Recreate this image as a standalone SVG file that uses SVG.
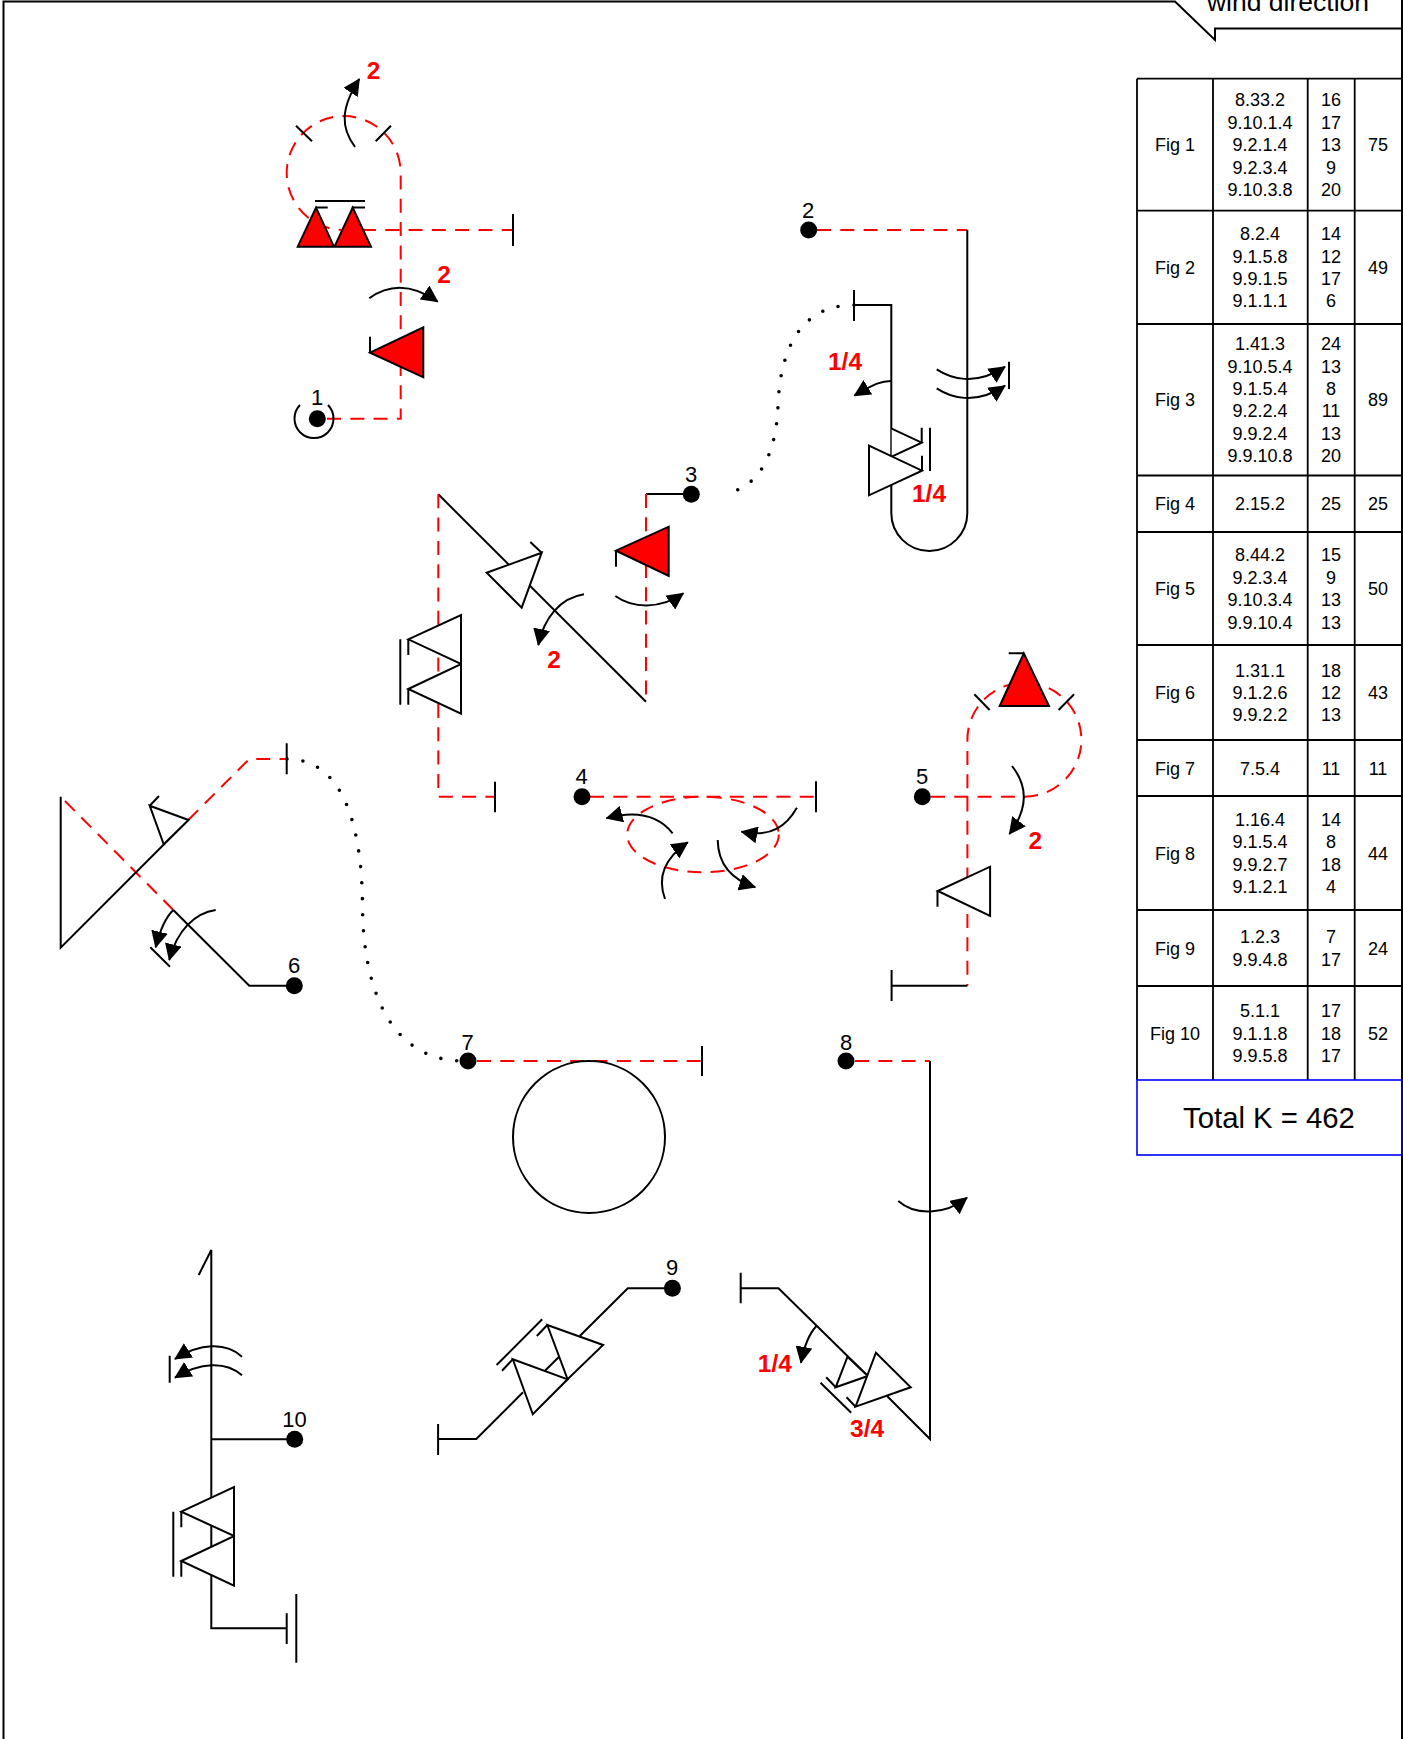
<svg xmlns="http://www.w3.org/2000/svg" width="1403" height="1739" viewBox="0 0 1403 1739">
<style>
text{font-family:"Liberation Sans",Arial,sans-serif;text-anchor:middle;fill:#000}
.b{fill:none;stroke:#000;stroke-width:2}
.a{fill:none;stroke:#000;stroke-width:2;marker-end:url(#ah)}
.r{fill:none;stroke:#f00;stroke-width:2;stroke-dasharray:14 9.3}
.d{fill:none;stroke:#000;stroke-width:3.6;stroke-linecap:round;stroke-dasharray:0 16}
.w{fill:#fff;stroke:#000;stroke-width:2;stroke-linejoin:miter}
.f{fill:#f00;stroke:#000;stroke-width:2}
.t{fill:none;stroke:#000;stroke-width:1.8}
.n{font-size:22px}
.q{font-size:24.5px;font-weight:bold;fill:#f00}
.c{font-size:18px}
</style>
<defs>
<marker id="ah" markerUnits="userSpaceOnUse" viewBox="0 0 17 17" markerWidth="17" markerHeight="17" refX="16" refY="8.5" orient="auto"><path d="M0 0L17 8.5L0 17z" fill="#000"/></marker>
</defs>
<rect width="1403" height="1739" fill="#fff"/>
<g id="frame">
<path class="b" d="M3.5 1739V1.5H1175L1215 40V28.5H1402M1402 0V1739"/>
<text x="1288" y="11" style="font-size:26.5px">wind direction</text>
</g>
<g id="connectors">
<path class="r" d="M327 418.7H400.7V173A57 57 0 1 0 343.6 230H513"/>
<path class="r" d="M817 230H967.3"/>
<path class="b" d="M967.3 230V513A38 38 0 0 1 891.3 513V305H854"/>
<path class="d" d="M854 305C800 305 780 350 778 406C776 460 755 490 723 493.5"/>
<path class="b" d="M691 494H646"/>
<path class="r" d="M646 494V701.7"/>
<path class="b" d="M646 701.7L438.3 494.3"/>
<path class="r" d="M438.3 494.3V796.7H495"/>
<path class="r" d="M590 796.7H816"/>
<ellipse class="r" cx="703" cy="834.5" rx="75.8" ry="37.8"/>
<path class="r" d="M931 796.7H1024A57 57 0 1 0 967.4 739.7V985.7"/>
<path class="b" d="M967.4 985.7H891.6"/>
<path class="b" d="M294 985.7H249.3L173.3 910"/>
<path class="r" d="M173.3 910L60.7 796.7"/>
<path class="b" d="M60.7 796.7V947.7L188.3 820"/>
<path class="r" d="M188.3 820L249.3 759H286.7"/>
<path class="d" d="M287 759C345 759 362 830 362.5 906C363 980 385 1058 460 1061"/>
<path class="r" d="M477 1061H702"/>
<path class="r" d="M855 1061H930"/>
<path class="b" d="M930 1061V1439L887 1396M867.8 1376L778.5 1288.3H740.7"/>
<path class="b" d="M672 1288.3H627.8L579.8 1336M559.1 1356.7L545 1370.7M523 1392.3L476.3 1439H438.1"/>
<path class="b" d="M211.3 1275L198.7 1275M198.7 1275L211.3 1250V1628.3H286.7M211.3 1439.3H294.7" style="display:none"/>
<path class="b" d="M198.7 1275L211.3 1250V1628.3H286.7M211.3 1439.3H294.7"/>
<path class="a" d="M355 147C341 128 340 109 359.3 79"/>
<path class="a" d="M369.3 298.3C385 287 408 281 437.7 301.7"/>
<path class="a" d="M891 381C882 381 875 383 854.3 395.7"/>
<path class="a" d="M936.7 369.3C950 378 975 387 1005 366.7"/>
<path class="a" d="M936.7 388.3C950 397 975 406 1005 385.7"/>
<path class="a" d="M584 594.3C560 598 544 618 538.3 645"/>
<path class="a" d="M615.3 596C632 608 660 610 683.3 593.3"/>
<path class="a" d="M672.6 833.3C658 815 637 810 606.5 818.3"/>
<path class="a" d="M665 899C658 880 662 860 687.8 842.3"/>
<path class="a" d="M717.7 840C718 860 727 878 755.2 887.3"/>
<path class="a" d="M796.9 807.7C787 825 772 838 741.5 831.7"/>
<path class="a" d="M1012 766C1027 785 1029 808 1009.4 834"/>
<path class="a" d="M173.3 910C165 918 160 930 155.7 947.3"/>
<path class="a" d="M215.7 910C195 913 177 930 169.3 960"/>
<path class="a" d="M898.3 1201C915 1216 945 1215 967 1197.7"/>
<path class="a" d="M816.4 1326C808 1335 804 1347 800.9 1362.7"/>
<path class="a" d="M242 1356.7C226 1342 200 1343 175 1359"/>
<path class="a" d="M242 1375.3C226 1361 200 1362 175 1377.7"/>
</g>
<g id="node-1">
<path class="b" d="M300 405A19.5 19.5 0 1 0 328 405"/>
<circle cx="317.3" cy="418.7" r="8.5"/>
<text class="n" x="317" y="405">1</text>
<path class="f" d="M316 207.7L297.7 246.7H334zM352.7 207.7L334.5 246.7H371zM370 352.7L423.3 327.3V377.3z"/>
<path class="b" d="M316 207.5H327.7M351.7 207.5H365M315 201H365M296 125.7L312 141.3M375.7 141.3L391 125.7M513 214V246M370 352.7V336.7"/>
<text class="q" x="373.5" y="79">2</text>
<text class="q" x="444" y="283">2</text>
</g>
<g id="node-2">
<circle cx="808.7" cy="230" r="8.5"/>
<text class="n" x="808" y="218.3">2</text>
<path class="w" d="M891.7 428.7L921.7 442.7L891.7 456.7"/>
<path class="w" d="M869 445.7L922 470.7L869 495.3z"/>
<path class="b" d="M921.7 442.7V427.7M922 470.7V455.7M930 427.7V471M854 290V321M1009 361.7V389"/>
<text class="q" x="845" y="370">1/4</text>
<text class="q" x="929" y="501.7">1/4</text>
</g>
<g id="node-3">
<circle cx="691.3" cy="494.3" r="8.5"/>
<text class="n" x="691" y="481.7">3</text>
<path class="f" d="M616 550.7L668.7 526.7V576z"/>
<path class="w" d="M541.7 552.7L486.7 572.7L521.7 607.7z"/>
<path class="w" d="M408.3 639.3L461 615V664zM408.3 689L461 664V713.7z"/>
<path class="b" d="M616 550.7V566.7M541.7 552.7L530.3 542M408.3 639.3V655M408.3 689V704.7M400.3 639.3V704.7M495 781.7V812.3"/>
<text class="q" x="554" y="668.3">2</text>
</g>
<g id="node-4">
<circle cx="582" cy="796.7" r="8.5"/>
<text class="n" x="581.5" y="784">4</text>
<path class="b" d="M816 781.3V812.3"/>
</g>
<g id="node-5">
<circle cx="922.3" cy="796.7" r="8.5"/>
<text class="n" x="922" y="784">5</text>
<path class="f" d="M1023.8 653.3L999.7 706H1049z"/>
<path class="w" d="M937.8 891L990.1 866.7V916z"/>
<path class="b" d="M1023.8 653.3H1008.7M974.3 694.3L989.7 710M1058.6 710L1074.1 694.3M937.5 891V906.7M891.6 970V1001"/>
<text class="q" x="1035.2" y="849">2</text>
</g>
<g id="node-6">
<circle cx="294.3" cy="985.7" r="8.5"/>
<text class="n" x="294" y="972.7">6</text>
<path class="w" d="M149.7 805.7L188.5 820L163.7 844.3z"/>
<path class="b" d="M149.7 805.7L159 796M150.3 947.3L170 966.7M286.7 743.3V774.3"/>
</g>
<g id="node-7">
<circle cx="468" cy="1061" r="8.5"/>
<text class="n" x="467.5" y="1050">7</text>
<circle class="b" cx="589" cy="1137" r="76"/>
<path class="b" d="M702 1046V1076"/>
</g>
<g id="node-8">
<circle cx="846" cy="1061" r="8.5"/>
<text class="n" x="846" y="1050">8</text>
<path class="w" d="M847.5 1356.7L867.8 1376L835.7 1387.3z"/>
<path class="w" d="M875.9 1352.7L910.7 1387.3L855.6 1406.7z"/>
<path class="b" d="M835.7 1387.3L826.2 1377.3M855.6 1406.7L846.5 1397.3M820.5 1382.7L851.2 1412.7M740.7 1272.7V1303.3"/>
<text class="q" x="774.8" y="1371.7">1/4</text>
<text class="q" x="867.1" y="1436.7">3/4</text>
</g>
<g id="node-9">
<circle cx="672.4" cy="1288.3" r="8.5"/>
<text class="n" x="672" y="1275">9</text>
<path class="t" d="M547.3 1325L603.1 1345L567.6 1379.3z" style="stroke-width:2"/>
<path class="w" d="M512.8 1359.3L567.6 1379.3L532.8 1414.3z" style="fill:#fff"/>
<path class="b" d="M547.3 1325L536.8 1336M512.8 1359.3L502 1370.7M496.6 1365L542.2 1319.3M438.1 1424V1455"/>
</g>
<g id="node-10">
<circle cx="294.7" cy="1439.3" r="8.5"/>
<text class="n" x="294.5" y="1426.7">10</text>
<path class="w" d="M181.3 1511.7L234 1487V1536zM181.3 1561L234 1536V1585.7z"/>
<path class="b" d="M181.3 1511.7V1527.3M181.3 1561V1576.7M173.3 1511.7V1576.7M169.7 1355.7V1382.7M286.7 1613.3V1644M296.3 1594V1662.7"/>
</g>
<g id="table">
<path class="t" d="M1137 78.7H1402M1137 210.7H1402M1137 324H1402M1137 475.5H1402M1137 532H1402M1137 645H1402M1137 740H1402M1137 796H1402M1137 910H1402M1137 986H1402M1137 78.7V1080M1213 78.7V1080M1307.7 78.7V1080M1354.7 78.7V1080"/>
<rect x="1137" y="1080" width="265" height="75" fill="none" stroke="#00f" stroke-width="1.6"/>
<text x="1269" y="1127.5" style="font-size:29.3px">Total K = 462</text>
<g class="c">
<text x="1175" y="151.2">Fig 1</text><text x="1175" y="273.8">Fig 2</text><text x="1175" y="406.2">Fig 3</text><text x="1175" y="510.2">Fig 4</text><text x="1175" y="595">Fig 5</text><text x="1175" y="699">Fig 6</text><text x="1175" y="774.5">Fig 7</text><text x="1175" y="859.5">Fig 8</text><text x="1175" y="954.5">Fig 9</text><text x="1175" y="1039.5">Fig 10</text>
<text x="1378" y="151.2">75</text><text x="1378" y="273.8">49</text><text x="1378" y="406.2">89</text><text x="1378" y="510.2">25</text><text x="1378" y="595">50</text><text x="1378" y="699">43</text><text x="1378" y="774.5">11</text><text x="1378" y="859.5">44</text><text x="1378" y="954.5">24</text><text x="1378" y="1039.5">52</text>
<text y="106.4"><tspan x="1260">8.33.2</tspan><tspan x="1260" dy="22.4">9.10.1.4</tspan><tspan x="1260" dy="22.4">9.2.1.4</tspan><tspan x="1260" dy="22.4">9.2.3.4</tspan><tspan x="1260" dy="22.4">9.10.3.8</tspan></text>
<text y="106.4"><tspan x="1331">16</tspan><tspan x="1331" dy="22.4">17</tspan><tspan x="1331" dy="22.4">13</tspan><tspan x="1331" dy="22.4">9</tspan><tspan x="1331" dy="22.4">20</tspan></text>
<text y="240.2"><tspan x="1260">8.2.4</tspan><tspan x="1260" dy="22.4">9.1.5.8</tspan><tspan x="1260" dy="22.4">9.9.1.5</tspan><tspan x="1260" dy="22.4">9.1.1.1</tspan></text>
<text y="240.2"><tspan x="1331">14</tspan><tspan x="1331" dy="22.4">12</tspan><tspan x="1331" dy="22.4">17</tspan><tspan x="1331" dy="22.4">6</tspan></text>
<text y="350.2"><tspan x="1260">1.41.3</tspan><tspan x="1260" dy="22.4">9.10.5.4</tspan><tspan x="1260" dy="22.4">9.1.5.4</tspan><tspan x="1260" dy="22.4">9.2.2.4</tspan><tspan x="1260" dy="22.4">9.9.2.4</tspan><tspan x="1260" dy="22.4">9.9.10.8</tspan></text>
<text y="350.2"><tspan x="1331">24</tspan><tspan x="1331" dy="22.4">13</tspan><tspan x="1331" dy="22.4">8</tspan><tspan x="1331" dy="22.4">11</tspan><tspan x="1331" dy="22.4">13</tspan><tspan x="1331" dy="22.4">20</tspan></text>
<text x="1260" y="510.2">2.15.2</text><text x="1331" y="510.2">25</text>
<text y="561.4"><tspan x="1260">8.44.2</tspan><tspan x="1260" dy="22.4">9.2.3.4</tspan><tspan x="1260" dy="22.4">9.10.3.4</tspan><tspan x="1260" dy="22.4">9.9.10.4</tspan></text>
<text y="561.4"><tspan x="1331">15</tspan><tspan x="1331" dy="22.4">9</tspan><tspan x="1331" dy="22.4">13</tspan><tspan x="1331" dy="22.4">13</tspan></text>
<text y="676.6"><tspan x="1260">1.31.1</tspan><tspan x="1260" dy="22.4">9.1.2.6</tspan><tspan x="1260" dy="22.4">9.9.2.2</tspan></text>
<text y="676.6"><tspan x="1331">18</tspan><tspan x="1331" dy="22.4">12</tspan><tspan x="1331" dy="22.4">13</tspan></text>
<text x="1260" y="774.5">7.5.4</text><text x="1331" y="774.5">11</text>
<text y="825.9"><tspan x="1260">1.16.4</tspan><tspan x="1260" dy="22.4">9.1.5.4</tspan><tspan x="1260" dy="22.4">9.9.2.7</tspan><tspan x="1260" dy="22.4">9.1.2.1</tspan></text>
<text y="825.9"><tspan x="1331">14</tspan><tspan x="1331" dy="22.4">8</tspan><tspan x="1331" dy="22.4">18</tspan><tspan x="1331" dy="22.4">4</tspan></text>
<text y="943.3"><tspan x="1260">1.2.3</tspan><tspan x="1260" dy="22.4">9.9.4.8</tspan></text>
<text y="943.3"><tspan x="1331">7</tspan><tspan x="1331" dy="22.4">17</tspan></text>
<text y="1017.1"><tspan x="1260">5.1.1</tspan><tspan x="1260" dy="22.4">9.1.1.8</tspan><tspan x="1260" dy="22.4">9.9.5.8</tspan></text>
<text y="1017.1"><tspan x="1331">17</tspan><tspan x="1331" dy="22.4">18</tspan><tspan x="1331" dy="22.4">17</tspan></text>
</g>
</g>
</svg>
